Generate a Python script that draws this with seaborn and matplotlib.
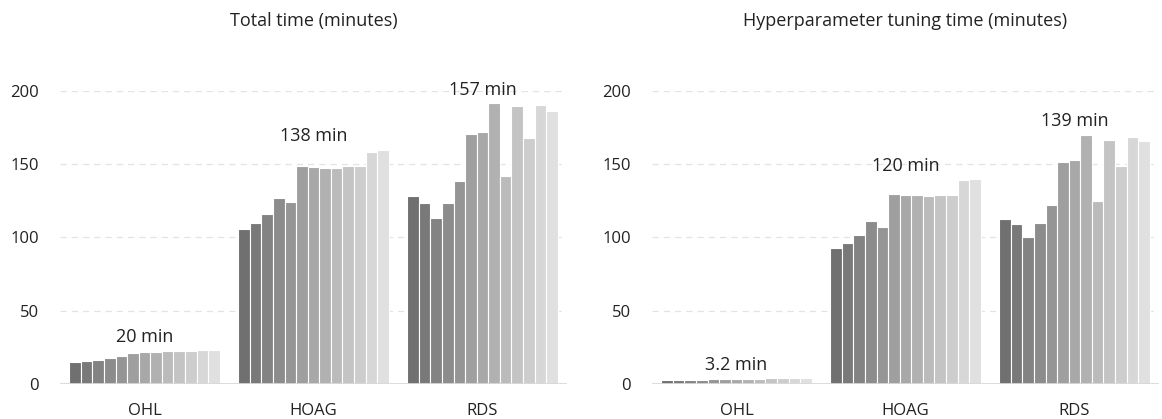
import numpy as np
import pandas as pd
import seaborn as sns
import matplotlib.pyplot as plt

# methods on the x axis, 13 runs per method (one bar each)
methods = ["OHL", "HOAG", "RDS"]
runs = [str(i) for i in range(1, 14)]

total_ohl = [15.0, 15.5, 16.4, 17.3, 18.7, 21.2, 21.4, 21.4, 22.1, 22.6, 22.6, 22.8, 22.8]
total_hoag = [105.9, 109.6, 115.7, 126.7, 123.9, 149.0, 148.1, 147.6, 147.6, 148.5, 149.0, 158.5, 159.9]
total_rds = [128.5, 123.5, 113.4, 123.5, 138.5, 170.4, 172.2, 191.8, 141.9, 189.5, 168.1, 190.2, 186.1]

tuning_ohl = [2.4, 2.5, 2.7, 2.8, 3.0, 3.2, 3.2, 3.3, 3.5, 3.6, 3.6, 3.7, 3.7]
tuning_hoag = [92.5, 95.9, 101.4, 111.2, 107.3, 129.8, 129.2, 128.7, 128.2, 128.7, 129.2, 139.0, 139.6]
tuning_rds = [112.8, 109.3, 100.2, 109.8, 122.1, 151.5, 152.8, 170.2, 125.1, 166.7, 148.5, 168.8, 165.6]

total_labels = ["20 min", "138 min", "157 min"]
tuning_labels = ["3.2 min", "120 min", "139 min"]
titles = ["Total time (minutes)", "Hyperparameter tuning time (minutes)"]


def make_df(ohl, hoag, rds):
    rows = []
    for m, vals in zip(methods, [ohl, hoag, rds]):
        for r, v in zip(runs, vals):
            rows.append({"method": m, "run": r, "minutes": v})
    return pd.DataFrame(rows)


def plot_panel(ax, df, labels, title, palette):
    sns.barplot(data=df, x="method", y="minutes", hue="run", order=methods,
                hue_order=runs, palette=palette, width=0.89, dodge=True,
                edgecolor="white", linewidth=0.8, legend=False, ax=ax)
    ax.set_ylim(0, 200)
    ax.set_xlim(-0.5, 2.5)
    ax.set_yticks([0, 50, 100, 150, 200])
    ax.set_axisbelow(True)
    ax.yaxis.grid(True, color="#e3e3e3", linestyle=(0, (5, 4)), linewidth=0.9)
    ax.axhline(0, color="#d9d9d9", linewidth=2, zorder=5)
    for s in ax.spines.values():
        s.set_visible(False)
    ax.tick_params(axis="both", length=0, labelsize=12, labelcolor="#222222")
    ax.tick_params(axis="y", pad=15)
    ax.tick_params(axis="x", pad=14)
    ax.set_xlabel("")
    ax.set_ylabel("")
    ax.set_title(title, fontsize=13, color="#222222", pad=47)

    for i, m in enumerate(methods):
        top = df[df["method"] == m]["minutes"].max()
        ax.text(i, top + 3, labels[i], ha="center", va="bottom",
                fontsize=13, color="#222222", clip_on=False)


if __name__ == "__main__":

    sns.set_style("white")
    plt.rcParams["font.family"] = ["Open Sans", "DejaVu Sans"]

    grays = np.linspace(0x70, 0xe0, len(runs)) / 255.0
    palette = [(g, g, g) for g in grays]

    fig = plt.figure(figsize=(11.62, 4.19), dpi=100)
    ax1 = fig.add_axes([60 / 1162, 35.3 / 419, 507 / 1162, 292.7 / 419])
    ax2 = fig.add_axes([652 / 1162, 35.3 / 419, 507 / 1162, 292.7 / 419])

    plot_panel(ax1, make_df(total_ohl, total_hoag, total_rds), total_labels, titles[0], palette)
    plot_panel(ax2, make_df(tuning_ohl, tuning_hoag, tuning_rds), tuning_labels, titles[1], palette)

    plt.savefig("out.png", dpi=100)
